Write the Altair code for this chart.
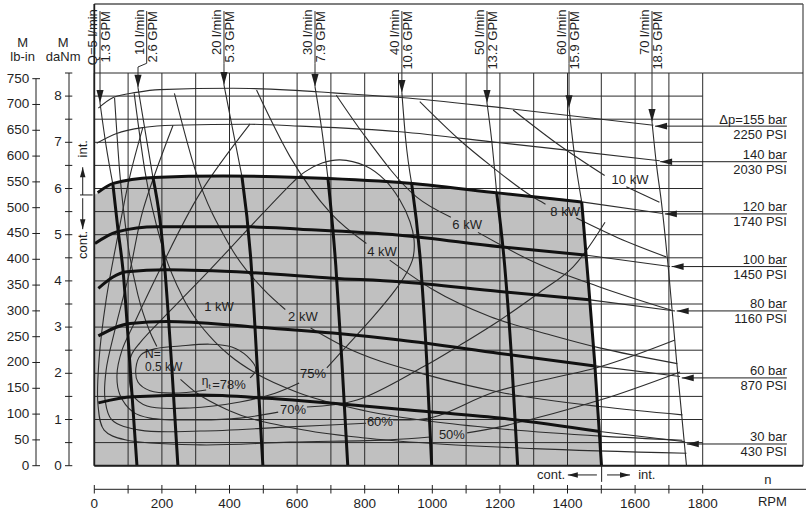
import altair as alt
import pandas as pd

# ------------------------------------------------------------------ data
# pressure curves  (rpm, torque daNm); last point = thin continuation
P_THIN_ONLY = {
    "155 bar": ([12, 56, 125, 194, 411, 579, 707, 906, 1202, 1654],
                [7.74, 7.97, 8.08, 8.14, 8.17, 8.13, 8.07, 7.97, 7.75, 7.37]),
    "140 bar": ([7, 66, 145, 234, 461, 609, 904, 1200, 1398, 1673],
                [6.98, 7.19, 7.32, 7.37, 7.39, 7.35, 7.23, 6.99, 6.83, 6.60]),
}
P_BOLD = {
    "120 bar": ([10, 56, 175, 382, 609, 905, 1200, 1442, 1682],
                [5.91, 6.11, 6.24, 6.27, 6.24, 6.13, 5.90, 5.71, 5.46]),
    "100 bar": ([2, 66, 185, 461, 609, 904, 1200, 1452, 1703],
                [4.81, 5.06, 5.17, 5.17, 5.12, 4.99, 4.74, 4.56, 4.31]),
    "80 bar": ([12, 96, 214, 461, 706, 904, 1200, 1467, 1718],
               [3.84, 4.20, 4.24, 4.18, 4.06, 3.98, 3.77, 3.59, 3.35]),
    "60 bar": ([12, 106, 214, 461, 706, 904, 1200, 1481, 1733],
               [2.81, 3.08, 3.12, 3.01, 2.87, 2.72, 2.43, 2.16, 1.93]),
    "30 bar": ([12, 115, 313, 510, 706, 904, 1200, 1496, 1748],
               [1.36, 1.49, 1.53, 1.46, 1.35, 1.22, 1.03, 0.74, 0.52]),
}

# flow lines (rpm, daNm) from arrow tip down to zero torque
FLOW = {
    "5": ([16.9, 34.6, 55.0, 70.1, 84.8, 105.5, 126.2], [7.85, 6.94, 6.09, 5.11, 4.24, 2.18, 0.0]),
    "10": ([129.3, 149.9, 173.5, 194.2, 208.9, 229.6, 247.3], [8.18, 7.27, 6.24, 5.32, 4.24, 2.09, 0.0]),
    "20": ([383.7, 410.0, 436.6, 463.2, 480.9, 498.7], [8.24, 7.26, 6.27, 4.45, 2.29, 0.0]),
    "30": ([653.0, 673.1, 690.8, 714.4, 732.2, 749.9], [8.20, 7.27, 6.25, 4.34, 2.29, 0.0]),
    "40": ([910.0, 921.4, 939.0, 965.7, 983.4, 998.2], [8.07, 7.05, 6.10, 4.34, 2.29, 0.0]),
    "50": ([1161.8, 1175.6, 1190.4, 1214.0, 1234.8, 1252.5], [7.85, 7.05, 5.91, 4.34, 2.29, 0.0]),
    "60": ([1404.5, 1420.7, 1442.0, 1456.2, 1479.9, 1500.6], [7.74, 6.72, 5.71, 4.45, 2.29, 0.0]),
    "70": ([1650.0, 1663.3, 1678.1, 1698.8, 1722.4, 1752.0], [7.44, 6.51, 5.69, 4.24, 2.29, 0.0]),
}
FLOW_BOLD_FROM = {"5": 2, "10": 2, "20": 2, "30": 2, "40": 2, "50": 2, "60": 2}

# power lines N (kW)
POWER = {
    "0.5a": ([60, 75, 100, 130, 160, 185], [7.96, 6.37, 4.77, 3.67, 2.98, 2.58]),
    "0.5b": ([255, 300, 400, 600, 800, 1000, 1300, 1752], [1.87, 1.59, 1.19, 0.80, 0.60, 0.48, 0.37, 0.27]),
    "1": ([118, 150, 200, 260, 300, 357, 400, 480, 600, 800, 1000, 1200, 1500, 1740],
          [8.06, 6.37, 4.77, 3.67, 3.18, 2.68, 2.39, 1.99, 1.59, 1.19, 0.955, 0.80, 0.64, 0.55]),
    "2a": ([237, 300, 400, 500, 565], [8.06, 6.37, 4.77, 3.82, 3.38]),
    "2b": ([640, 736, 992, 1200, 1495, 1740], [2.98, 2.59, 1.95, 1.59, 1.28, 1.10]),
    "4a": ([480, 579, 700, 805], [8.13, 6.69, 5.46, 4.81]),
    "4b": ([874, 1000, 1170, 1350, 1495, 1725], [4.45, 3.82, 3.23, 2.83, 2.55, 2.21]),
    "6a": ([716, 795, 953, 1055], [8.02, 7.19, 5.82, 5.38]),
    "6b": ([1135, 1200, 1288, 1495, 1706], [5.05, 4.79, 4.45, 3.87, 3.37]),
    "8a": ([963, 1081, 1170, 1297, 1335], [7.88, 7.05, 6.51, 5.82, 5.66]),
    "8b": ([1426, 1550, 1692], [5.36, 4.93, 4.52]),
    "10a": ([1239, 1377, 1510], [7.70, 6.93, 6.28]),
    "10b": ([1574, 1672], [6.04, 5.70]),
}

# efficiency contours (ordered paths)
EFF = {
    "78": ([331, 233, 165, 129, 123, 138, 180, 254, 342, 407, 452, 478, 461],
           [1.64, 1.57, 1.62, 1.81, 2.11, 2.40, 2.53, 2.59, 2.63, 2.57, 2.37, 2.09, 1.90]),
    "75": ([688, 742, 825, 890, 922, 943, 946, 934, 904, 860, 801, 727, 674, 623, 588, 461, 342,
            224, 135, 109, 103, 114, 156, 283, 431, 535, 606],
           [2.12, 2.55, 3.22, 3.80, 4.15, 4.50, 4.89, 5.28, 5.75, 6.18, 6.49, 6.62, 6.55, 6.36, 6.14,
            5.17, 4.24, 3.35, 2.66, 2.38, 1.96, 1.53, 1.29, 1.25, 1.38, 1.57, 1.79]),
    "70a": ([461, 313, 194, 120, 82, 67, 76, 115, 165, 313, 431, 544],
            [7.40, 5.90, 4.24, 3.11, 2.50, 1.96, 1.53, 1.16, 1.03, 0.99, 1.03, 1.16]),
    "70b": ([629, 777, 973, 1082, 1200, 1319, 1416, 1511],
            [1.27, 1.42, 2.14, 2.61, 3.15, 3.76, 4.30, 5.27]),
    "60a": ([233, 144, 106, 61, 35, 32, 52, 135, 313, 579, 804],
            [7.37, 5.53, 4.24, 2.94, 2.07, 1.42, 0.99, 0.77, 0.75, 0.84, 0.92]),
    "60b": ([884, 1002, 1186, 1496, 1718], [0.99, 1.05, 1.60, 2.14, 2.72]),
    "50a": ([144, 106, 70, 35, 14, 11, 29, 91, 313, 579, 875, 993],
            [7.33, 6.29, 4.99, 3.59, 2.29, 1.31, 0.77, 0.56, 0.45, 0.51, 0.56, 0.62]),
    "50b": ([1103, 1200, 1496, 1733], [0.71, 0.84, 1.42, 2.03]),
}

KW_TEXT = ["1 kW", "2 kW", "4 kW", "6 kW", "8 kW", "10 kW"]
KW_RPM = [369, 617, 851, 1103, 1393, 1585]
KW_M = [3.43, 3.21, 4.63, 5.20, 5.49, 6.18]

EFF_TEXT = ["75%", "70%", "60%", "50%"]
EFF_RPM = [647, 588, 845, 1058]
EFF_M = [1.99, 1.21, 0.95, 0.67]

# flow labels on top
Q_LMIN = ["Q=5 l/min", "10 l/min", "20 l/min", "30 l/min", "40 l/min", "50 l/min", "60 l/min", "70 l/min"]
Q_GPM = ["1.3 GPM", "2.6 GPM", "5.3 GPM", "7.9 GPM", "10.6 GPM", "13.2 GPM", "15.9 GPM", "18.5 GPM"]
Q_BAR = [16.9, 155.0, 383.7, 653.0, 910.0, 1161.8, 1404.5, 1650.0]
Q_TIP = [16.9, 129.3, 383.7, 653.0, 910.0, 1161.8, 1404.5, 1650.0]
Q_TIP_M = [7.85, 8.18, 8.24, 8.20, 8.07, 7.85, 7.74, 7.44]
Q_LMIN_M = [8.67, 8.89, 8.89, 8.89, 8.89, 8.89, 8.89, 8.89]
Q_TOP_M = 9.84

# pressure labels on the right
R_BAR = ["\u0394p=155 bar", "140 bar", "120 bar", "100 bar", "80 bar", "60 bar", "30 bar"]
R_PSI = ["2250 PSI", "2030 PSI", "1740 PSI", "1450 PSI", "1160 PSI", "870 PSI", "430 PSI"]
R_TIP = [1659, 1674, 1688, 1708, 1723, 1738, 1753]
R_M = [7.35, 6.58, 5.45, 4.31, 3.35, 1.90, 0.47]
R_END = 2049

# axes
GRID_RPM = list(range(0, 1801, 100))
GRID_M = [i * 0.5 for i in range(18)]
X_LABELS = list(range(0, 1801, 200))
DANM_LABELS = list(range(0, 9))
LBIN_TICKS = list(range(0, 751, 50))

# ------------------------------------------------------------------ style / scales
FONT = "Liberation Sans"
INK = "#1f1f1f"
THIN = "#2d2d2d"
GRID = "#2a2a2a"
FILL = "#c0c0c0"
W, H = 608.4, 392.7
PX0, PY0 = 94.3, 73.0

XS = alt.Scale(domain=[0, 1800], nice=False, zero=False)
YS = alt.Scale(domain=[0, 8.5], nice=False, zero=False)
LBS = alt.Scale(domain=[0, 761], nice=False, zero=False)

DOWN = "M0,0L-1.1,-4L1.1,-4Z"
UP = "M0,0L-1.1,4L1.1,4Z"
LEFT = "M0,0L4,-1.1L4,1.1Z"
RIGHT = "M0,0L-4,-1.1L-4,1.1Z"

ONE = pd.DataFrame({"k": [0]})


def X(f="rpm"):
    return alt.X(f"{f}:Q", scale=XS, axis=None)


def Y(f="m"):
    return alt.Y(f"{f}:Q", scale=YS, axis=None)


def px(v):
    return alt.value(v - PX0)


def py(v):
    return alt.value(v - PY0)


def long(curves):
    rows = []
    for name, (xs, ys) in curves.items():
        for i, (a, b) in enumerate(zip(xs, ys)):
            rows.append({"name": name, "i": i, "rpm": a, "m": b})
    return pd.DataFrame(rows)


def lines(df, width, color, interp="monotone", ordered=False):
    enc = dict(x=X(), y=Y(), detail="name:N")
    if ordered:
        enc["order"] = alt.Order("i:Q")
    return alt.Chart(df).mark_line(strokeWidth=width, color=color, interpolate=interp,
                                   strokeJoin="round").encode(**enc)


def txt(df, size=13, **kw):
    return alt.Chart(df).mark_text(font=FONT, fontSize=size, color=INK, **kw)


# ------------------------------------------------------------------ tables
p_thin = dict(P_THIN_ONLY)
p_bold = {}
for k, (xs, ys) in P_BOLD.items():
    p_bold[k] = (xs[:-1], ys[:-1])
    p_thin[k + " ext"] = (xs[-2:], ys[-2:])

f_thin, f_bold = {}, {}
for k, (xs, ys) in FLOW.items():
    if k in FLOW_BOLD_FROM:
        s = FLOW_BOLD_FROM[k]
        f_thin[k] = (xs[:s + 1], ys[:s + 1])
        f_bold[k] = (xs[s:], ys[s:])
    else:
        f_thin[k] = (xs, ys)

a120x, a120y = P_BOLD["120 bar"]
a60x, a60y = FLOW["60"]
s60 = FLOW_BOLD_FROM["60"]
area_df = pd.DataFrame({"rpm": [0] + a120x[:-1] + a60x[s60 + 1:],
                        "m": [5.86] + a120y[:-1] + a60y[s60 + 1:]})

bars = {}
for lab, bx, tx, tm in zip(Q_LMIN, Q_BAR, Q_TIP, Q_TIP_M):
    bars[lab] = ([bx, bx, tx, tx], [Q_TOP_M, 8.71, 8.63, tm])

q_df = pd.DataFrame({"lmin": Q_LMIN, "gpm": Q_GPM, "bar": Q_BAR, "tip": Q_TIP,
                     "tipm": Q_TIP_M, "lm": Q_LMIN_M, "top": [Q_TOP_M] * len(Q_BAR)})
r_df = pd.DataFrame({"bar": R_BAR, "psi": R_PSI, "tip": R_TIP, "m": R_M, "end": [R_END] * len(R_M)})

# ------------------------------------------------------------------ layers
gray = alt.Chart(area_df).mark_area(color=FILL, interpolate="monotone", opacity=1).encode(
    x=X(), y=Y(), y2=alt.datum(0))

vgrid = alt.Chart(pd.DataFrame({"rpm": GRID_RPM})).mark_rule(color=GRID, strokeWidth=1).encode(
    x=X(), y=alt.value(0), y2=alt.value(H))
hgrid = alt.Chart(pd.DataFrame({"m": GRID_M})).mark_rule(color=GRID, strokeWidth=1).encode(
    y=Y(), x=alt.value(0), x2=alt.value(W))

frame_col = "#555555"
frame = [
    alt.Chart(ONE).mark_rule(color=frame_col, strokeWidth=1.5).encode(
        x=alt.value(0), x2=px(803), y=py(4)),
    alt.Chart(ONE).mark_rule(color=frame_col, strokeWidth=1.3).encode(
        x=px(803), y=py(4), y2=alt.value(H)),
    alt.Chart(ONE).mark_rule(color=GRID, strokeWidth=1).encode(
        x=alt.value(W), x2=px(803), y=alt.value(0)),
    alt.Chart(ONE).mark_rule(color=INK, strokeWidth=2).encode(
        x=alt.value(0), x2=px(803), y=alt.value(H)),
    alt.Chart(ONE).mark_rule(color=INK, strokeWidth=1.8).encode(
        x=alt.value(0), y=py(4), y2=alt.value(H)),
]

# axes drawn through the scales: lines, crossing ticks, labels
danm_line = alt.Chart(ONE).mark_rule(color=INK, strokeWidth=1).encode(
    x=px(69), y=alt.value(0), y2=alt.value(H))
danm_ticks = alt.Chart(pd.DataFrame({"m": GRID_M})).mark_rule(color=INK, strokeWidth=1).encode(
    y=Y(), x=px(65), x2=px(72.3))
danm_labels = txt(pd.DataFrame({"m": DANM_LABELS, "t": [str(v) for v in DANM_LABELS]}),
                  size=13.5, align="right", baseline="middle").encode(
    y=Y(), x=px(61.7), text="t:N")
x_line = alt.Chart(ONE).mark_rule(color=INK, strokeWidth=1).encode(
    x=alt.value(0), x2=px(806), y=py(489.3))
x_ticks = alt.Chart(pd.DataFrame({"rpm": GRID_RPM})).mark_rule(color=INK, strokeWidth=1).encode(
    x=X(), y=py(485), y2=py(493.5))
x_labels = txt(pd.DataFrame({"rpm": X_LABELS, "t": [str(v) for v in X_LABELS]}),
               size=13.5, align="center", baseline="middle").encode(
    x=X(), y=py(503.5), text="t:N")

thin_w = 1.1
curves_thin = [
    lines(long(POWER), thin_w, THIN),
    lines(long(EFF), thin_w, THIN, interp="catmull-rom", ordered=True),
    lines(long(p_thin), thin_w, THIN),
    lines(long(f_thin), thin_w, THIN),
    lines(long(bars), 1.0, THIN, interp="linear", ordered=True),
]
curves_bold = [
    lines(long(p_bold), 3.0, "#111111"),
    lines(long(f_bold), 3.0, "#111111"),
]

# labels inside plot
kw_df = pd.DataFrame({"t": KW_TEXT, "rpm": KW_RPM, "m": KW_M})
eff_df = pd.DataFrame({"t": EFF_TEXT, "rpm": EFF_RPM, "m": EFF_M})
texts = [
    txt(kw_df, align="center", baseline="middle").encode(x=X(), y=Y(), text="t:N"),
    txt(eff_df, align="center", baseline="middle").encode(x=X(), y=Y(), text="t:N"),
    txt(pd.DataFrame({"t": ["N=", "0.5 kW"], "rpm": [150, 150], "m": [2.42, 2.14]}), size=12,
        align="left", baseline="middle").encode(x=X(), y=Y(), text="t:N"),
    txt(pd.DataFrame({"t": ["\u03b7"], "rpm": [328], "m": [1.84]}), size=12,
        align="center", baseline="middle").encode(x=X(), y=Y(), text="t:N"),
    txt(pd.DataFrame({"t": ["t"], "rpm": [341], "m": [1.70]}), size=8,
        align="center", baseline="middle").encode(x=X(), y=Y(), text="t:N"),
    txt(pd.DataFrame({"t": ["=78%"], "rpm": [349], "m": [1.75]}),
        align="left", baseline="middle").encode(x=X(), y=Y(), text="t:N"),
    # top flow labels
    txt(q_df, angle=270, align="left", baseline="bottom").encode(
        x=X("bar"), y=Y("lm"), text="lmin:N"),
    txt(q_df, angle=270, align="right", baseline="top").encode(
        x=X("bar"), y=Y("top"), text="gpm:N"),
    # right pressure labels
    txt(r_df, align="right", baseline="middle", dy=-6.5).encode(x=X("end"), y=Y(), text="bar:N"),
    txt(r_df, align="right", baseline="middle", dy=8.5).encode(x=X("end"), y=Y(), text="psi:N"),
    # axis titles
    txt(pd.DataFrame({"t": ["M", "lb-in", "M", "daNm"], "rpm": [-212, -212, -92, -92],
                      "m": [9.14, 8.85, 9.14, 8.85]}), align="center", baseline="middle").encode(
        x=X(), y=Y(), text="t:N"),
    txt(pd.DataFrame({"t": ["n"], "rpm": [1993], "m": [-0.31]}), align="center",
        baseline="middle").encode(x=X(), y=Y(), text="t:N"),
    txt(pd.DataFrame({"t": ["RPM"], "rpm": [2049], "m": [-0.78]}), align="right",
        baseline="middle").encode(x=X(), y=Y(), text="t:N"),
    txt(pd.DataFrame({"t": ["cont."], "rpm": [1393], "m": [-0.20]}), align="right",
        baseline="middle").encode(x=X(), y=Y(), text="t:N"),
    txt(pd.DataFrame({"t": ["int."], "rpm": [1609], "m": [-0.20]}), align="left",
        baseline="middle").encode(x=X(), y=Y(), text="t:N"),
    txt(pd.DataFrame({"t": ["int.", "cont."], "rpm": [-32, -34], "m": [6.86, 4.78]}), angle=270,
        align="center", baseline="middle").encode(x=X(), y=Y(), text="t:N"),
]

# arrows
r_lines = alt.Chart(r_df).mark_rule(color=INK, strokeWidth=1).encode(x=X("tip"), x2="end:Q", y=Y())
r_heads = alt.Chart(r_df).mark_point(shape=LEFT, size=36, filled=True, color=INK, opacity=1,
                                     strokeWidth=0).encode(x=X("tip"), y=Y())
q_heads = alt.Chart(q_df).mark_point(shape=DOWN, size=42, filled=True, color=INK, opacity=1,
                                     strokeWidth=0).encode(x=X("tip"), y=Y("tipm"))

side = pd.DataFrame({"rpm": [-34.3, -34.3, -42.3, 1401, 1517],
                     "rpm2": [-34.3, -34.3, -4.7, 1487, 1585],
                     "m": [5.86, 5.79, 5.86, -0.20, -0.20],
                     "m2": [6.46, 5.12, 5.86, -0.20, -0.20]})
side_lines = alt.Chart(side).mark_rule(color=INK, strokeWidth=1).encode(
    x=X(), x2="rpm2:Q", y=Y(), y2="m2:Q")
cut = alt.Chart(pd.DataFrame({"rpm": [1501], "m": [0.0], "m2": [-0.35]})).mark_rule(
    color=INK, strokeWidth=1).encode(x=X(), y=Y(), y2="m2:Q")
heads = [
    alt.Chart(pd.DataFrame({"rpm": [-34.3], "m": [6.46]})).mark_point(
        shape=UP, size=25, filled=True, color=INK, opacity=1, strokeWidth=0).encode(x=X(), y=Y()),
    alt.Chart(pd.DataFrame({"rpm": [-34.3], "m": [5.12]})).mark_point(
        shape=DOWN, size=25, filled=True, color=INK, opacity=1, strokeWidth=0).encode(x=X(), y=Y()),
    alt.Chart(pd.DataFrame({"rpm": [1401], "m": [-0.20]})).mark_point(
        shape=LEFT, size=25, filled=True, color=INK, opacity=1, strokeWidth=0).encode(x=X(), y=Y()),
    alt.Chart(pd.DataFrame({"rpm": [1585], "m": [-0.20]})).mark_point(
        shape=RIGHT, size=25, filled=True, color=INK, opacity=1, strokeWidth=0).encode(x=X(), y=Y()),
]

main = alt.layer(
    gray, vgrid, hgrid, *curves_thin, *curves_bold, *frame,
    danm_line, danm_ticks, danm_labels, x_line, x_ticks, x_labels,
    *texts, r_lines, r_heads, q_heads, side_lines, cut, *heads,
)

lb_df = pd.DataFrame({"lb": LBIN_TICKS, "t": [str(v) for v in LBIN_TICKS]})
lb_ticks = alt.Chart(lb_df).mark_rule(color=INK, strokeWidth=1).encode(
    y=alt.Y("lb:Q", scale=LBS, axis=None), x=px(32.3), x2=px(40))
lb_labels = txt(lb_df, size=13.5, align="right", baseline="middle").encode(
    y=alt.Y("lb:Q", scale=LBS, axis=None), x=px(29.3), text="t:N")
lb_dom = alt.Chart(pd.DataFrame({"lb": [0], "lb2": [750]})).mark_rule(color=INK, strokeWidth=1).encode(
    y=alt.Y("lb:Q", scale=LBS, axis=None), y2="lb2:Q", x=px(36))
lb_layer = alt.layer(lb_ticks, lb_labels, lb_dom)

chart = alt.layer(main, lb_layer).resolve_scale(y="independent").properties(
    width=W, height=H,
    autosize=alt.AutoSizeParams(type="none"),
    padding={"left": PX0, "top": PY0, "right": 809 - PX0 - W, "bottom": 513 - PY0 - H},
).configure_view(strokeWidth=0)

chart.save("out.html", embed_options={"renderer": "svg", "actions": False})
